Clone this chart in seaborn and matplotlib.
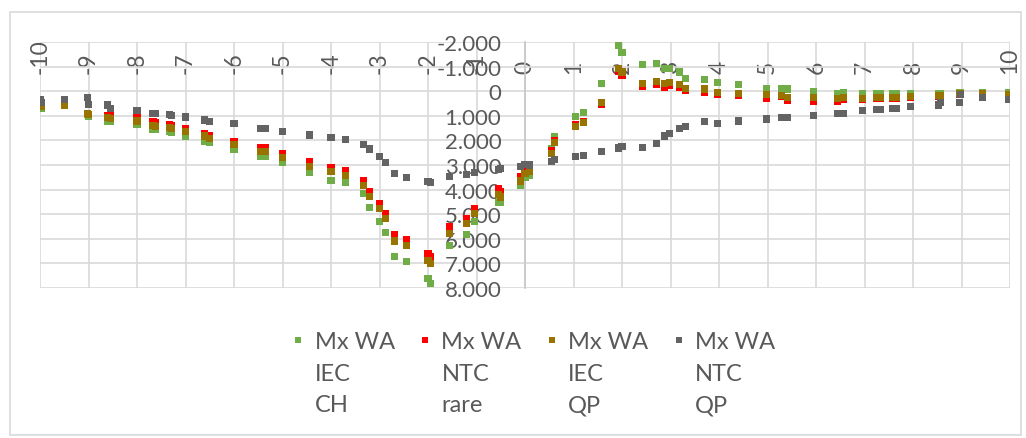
import pandas as pd
import seaborn as sns
import matplotlib.pyplot as plt
from matplotlib.ticker import FuncFormatter, MultipleLocator
from matplotlib.patches import Rectangle

# data (shared x positions, one y list per series)
x_vals = [-10.0, -9.97, -9.5, -9.03, -9.0, -8.6, -8.55, -8.0, -7.67, -7.62,
          -7.33, -7.28, -7.0, -6.6, -6.5, -6.0, -5.45, -5.35, -5.0, -4.45,
          -4.0, -3.7, -3.33, -3.2, -3.0, -2.87, -2.7, -2.45, -2.0, -1.94,
          -1.55, -1.2, -1.04, -0.55, -0.5, -0.09, 0.0, 0.1, 0.54, 0.6,
          1.05, 1.2, 1.57, 1.92, 2.0, 2.43, 2.72, 2.87, 2.98, 3.19,
          3.31, 3.7, 3.97, 4.41, 4.97, 5.29, 5.42, 5.95, 6.45, 6.57,
          6.96, 7.24, 7.33, 7.57, 7.65, 7.94, 8.52, 8.57, 8.95, 8.97,
          9.44, 9.96]

iec_ch = [720, 700, 580, 940, 1030, 1240, 1240, 1370, 1550, 1550,
          1650, 1680, 1820, 2030, 2100, 2370, 2670, 2670, 2910, 3320,
          3620, 3730, 4140, 4720, 5280, 5740, 6720, 6910, 7600, 7810,
          6270, 5820, 5290, 4540, 4540, 3820, 3500, 3410, 2330, 1850,
          1010, 860, -330, -1870, -1590, -1070, -1140, -910, -910, -780,
          -530, -460, -370, -260, -120, -90, -90, 15, 80, 50,
          80, 80, 80, 90, 90, 80, 80, 80, 40, 40,
          40, 40]

ntc_rare = [600, 590, 550, 900, 940, 970, 1000, 1070, 1240, 1260,
            1350, 1380, 1510, 1710, 1810, 2030, 2290, 2290, 2530, 2870,
            3110, 3210, 3620, 4070, 4570, 4980, 5820, 6030, 6580, 6740,
            5520, 5160, 4780, 3960, 4090, 3460, 3250, 3140, 2420, 1990,
            1370, 1250, 520, -800, -620, -190, -260, -150, -230, -160,
            -10, 40, 150, 190, 310, 200, 360, 410, 400, 350,
            320, 300, 300, 300, 300, 250, 230, 230, 120, 120,
            120, 150]

iec_qp = [640, 620, 560, 920, 960, 1070, 1100, 1210, 1400, 1420,
          1480, 1500, 1650, 1820, 1920, 2150, 2440, 2440, 2690, 3050,
          3280, 3410, 3820, 4270, 4780, 5180, 6090, 6270, 6880, 7020,
          5800, 5360, 4980, 4200, 4300, 3650, 3350, 3280, 2530, 2080,
          1420, 1290, 450, -940, -780, -330, -400, -300, -370, -290,
          -120, -90, 40, 80, 150, 190, 250, 260, 290, 260,
          290, 260, 260, 260, 260, 220, 190, 190, 80, 80,
          80, 120]

ntc_qp = [355, 450, 355, 245, 530, 560, 720, 800, 910, 910,
          930, 970, 1050, 1170, 1220, 1330, 1500, 1500, 1620, 1780,
          1900, 1950, 2150, 2350, 2670, 2900, 3330, 3510, 3660, 3700,
          3460, 3390, 3310, 3170, 3140, 3050, 2970, 3000, 2840, 2760,
          2640, 2600, 2440, 2310, 2230, 2290, 2110, 1820, 1710, 1510,
          1420, 1250, 1300, 1210, 1130, 1060, 1060, 970, 900, 900,
          800, 735, 735, 695, 695, 610, 560, 450, 460, 150,
          270, 330]

series_names = ["Mx WA\nIEC\nCH", "Mx WA\nNTC\nrare", "Mx WA\nIEC\nQP", "Mx WA\nNTC\nQP"]
colors = ["#70AD47", "#FF0000", "#997300", "#636363"]

df = pd.concat([pd.DataFrame({"x": x_vals, "y": vals, "serie": name})
                for name, vals in zip(series_names, [iec_ch, ntc_rare, iec_qp, ntc_qp])])

sns.set_theme(style="white")
plt.rcParams["font.family"] = ["Lato", "DejaVu Sans"]

txt = "#595959"
grid = "#d9d9d9"

fig = plt.figure(figsize=(10.26, 4.39), dpi=100)
ax = fig.add_axes([40 / 1026, 1 - 289 / 439, 970 / 1026, 246 / 439])

sns.scatterplot(data=df, x="x", y="y", hue="serie", hue_order=series_names,
                palette=colors, marker="s", s=26, linewidth=0, ax=ax, zorder=3)

ax.set_xlim(-10, 10)
ax.set_ylim(8000, -2000)
ax.xaxis.set_major_locator(MultipleLocator(1))
ax.yaxis.set_major_locator(MultipleLocator(1000))
ax.xaxis.set_major_formatter(FuncFormatter(lambda v, p: f"{v:.0f}"))
ax.yaxis.set_major_formatter(FuncFormatter(lambda v, p: f"{v:,.0f}".replace(",", ".")))
ax.grid(True, color=grid, lw=1.2)
ax.set_axisbelow(True)
ax.set_xlabel("")
ax.set_ylabel("")

# y axis sits at x=0, x labels on top near y=-1000
for s in ["right", "bottom", "top"]:
    ax.spines[s].set_visible(False)
ax.spines["left"].set_position(("data", 0))
ax.spines["left"].set_color("#c8c8c8")
ax.spines["top"].set_position(("data", -760))
ax.xaxis.tick_top()
ax.tick_params(axis="x", length=0, pad=0, labelsize=16.5, labelcolor=txt, labelrotation=90)
ax.tick_params(axis="y", direction="out", length=5, color="#c8c8c8", width=1,
               pad=12, labelsize=16, labelcolor=txt)

# legend below, marker aligned with first line
handles, labels = ax.get_legend_handles_labels()
ax.get_legend().remove()
leg = fig.legend(handles, labels, loc="upper left", bbox_to_anchor=(291 / 1026, 1 - 332 / 439),
                 ncol=4, frameon=False, fontsize=17, labelcolor=txt, handletextpad=0.4,
                 columnspacing=0.98, markerscale=0.85, handlelength=0.6, handleheight=1.0,
                 labelspacing=0, borderpad=0, borderaxespad=0)
for t in leg.get_texts():
    t.set_linespacing(1.62)
for col in leg._legend_handle_box.get_children():
    for item in col.get_children():
        item.align = "top"

# chart area border
fig.add_artist(Rectangle((10 / 1026, 3 / 439), 1011 / 1026, 423 / 439, transform=fig.transFigure,
                         fill=False, edgecolor=grid, lw=1.2))

fig.savefig("out.png", dpi=100)
